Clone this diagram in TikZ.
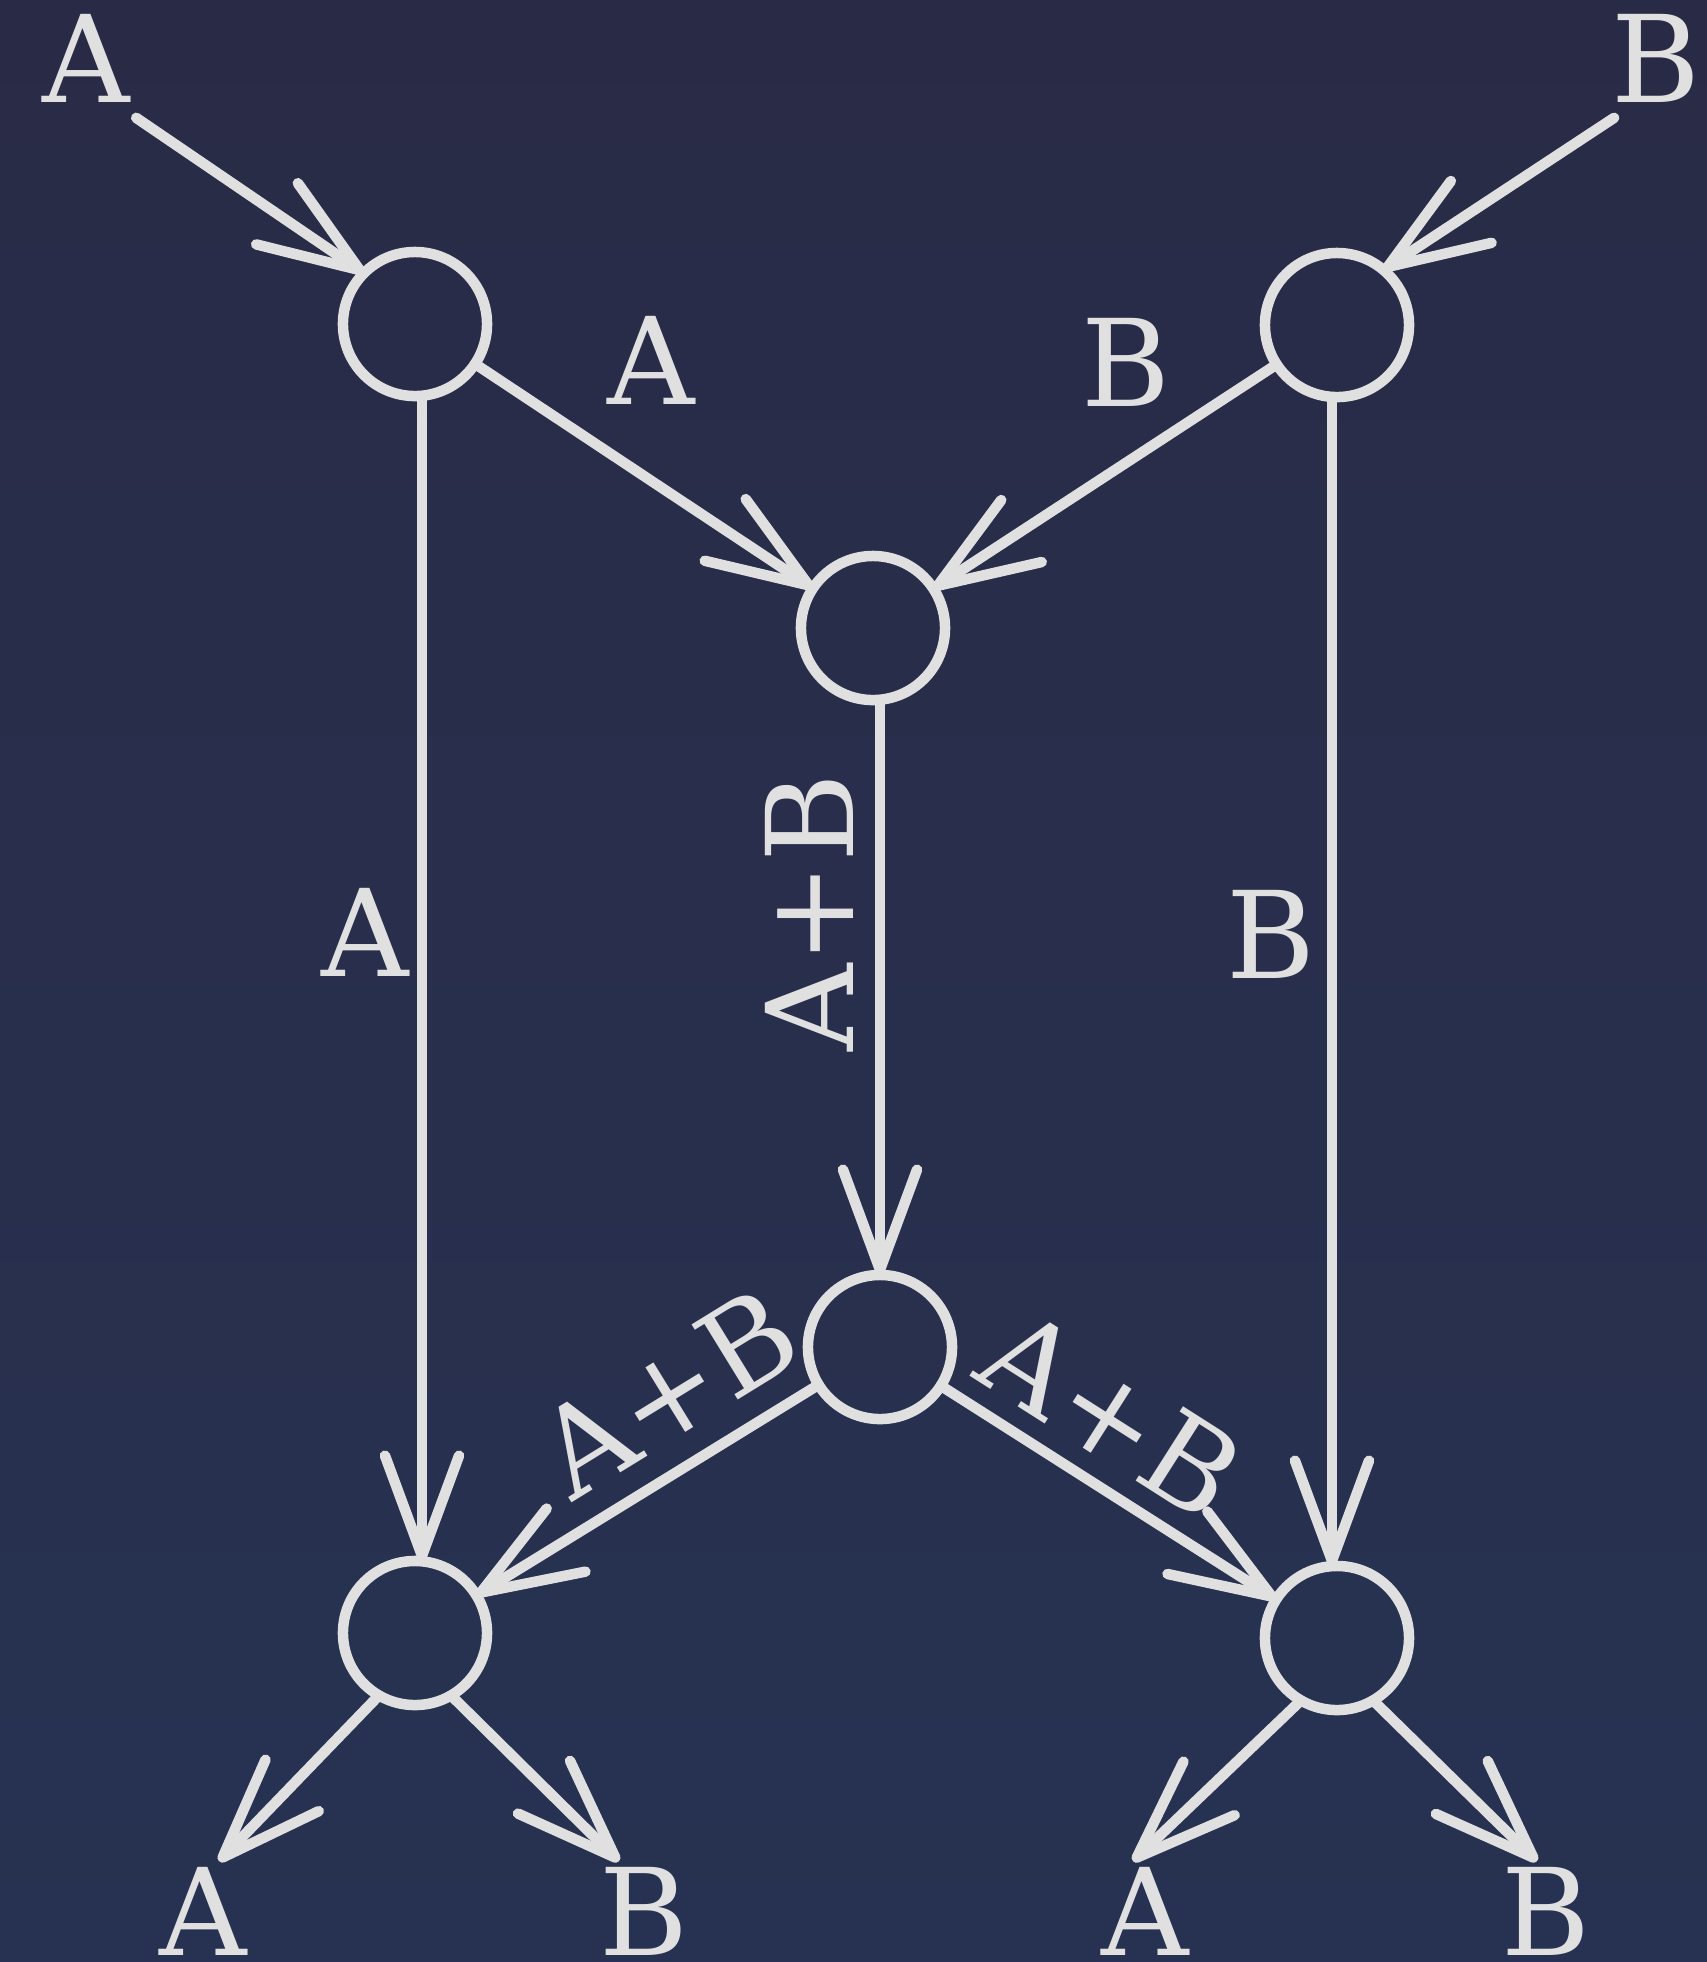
\documentclass[tikz,border=0pt]{standalone}
\usepackage{fontspec}
\setmainfont{DejaVu Serif}
\usetikzlibrary{arrows.meta}
\definecolor{ChalkGray}{RGB}{224,224,224}
\definecolor{SlateTop}{RGB}{41,43,70}
\definecolor{SlateBottom}{RGB}{39,50,82}

\begin{document}
\begin{tikzpicture}[
    x=0.01cm, y=-0.01cm,
    every node/.style={
        text=ChalkGray,
        inner sep=0pt,
        font=\fontsize{34.4}{40}\selectfont
    },
    junction/.style={draw=ChalkGray, circle, line width=1.05mm, minimum size=1.44cm, outer sep=0pt},
    inport/.style={inner sep=0.15cm},
    outport/.style={inner sep=0.05cm},
    flow/.style={draw=ChalkGray, line width=1.05mm, line cap=round,
        -{Straight Barb[length=1cm, width=0.74cm, round]}}
]

% background
\shade[top color=SlateTop, bottom color=SlateBottom] (0,0) rectangle (1707,1962);
\useasboundingbox (0,0) rectangle (1707,1962);

% Junctions
\node[junction] (splitA) at (415,324) {};
\node[junction] (splitB) at (1337,325) {};
\node[junction] (mix) at (873,628) {};
\node[junction] (fan) at (880,1347) {};
\node[junction] (sinkL) at (415,1633) {};
\node[junction] (sinkR) at (1337,1638) {};

% Inputs and outputs
\node[inport] (srcA) at (86,58) {A};
\node[inport] (srcB) at (1656,58) {B};
\node[outport] (dstLA) at (203,1911) {A};
\node[outport] (dstLB) at (644,1911) {B};
\node[outport] (dstRA) at (1145,1911) {A};
\node[outport] (dstRB) at (1546,1911) {B};

% Flows with labels
\draw[flow] (srcA.310) -- (splitA.135);
\draw[flow] (srcB.235) -- (splitB.50);
\draw[flow] (splitA) -- node[pos=0.52, above=0.71cm] (lblA) {A} (mix);
\draw[flow] (splitB) -- node[pos=0.44, above=0.51cm] (lblB) {B} (mix);
\draw[flow] ([xshift=0.07cm]splitA.south) -- node[pos=0.46, left=0.075cm] (lblAdown) {A} ([xshift=0.07cm]sinkL.north);
\draw[flow] ([xshift=-0.05cm]splitB.south) -- node[pos=0.46, left=0.11cm] (lblBdown) {B} ([xshift=-0.05cm]sinkR.north);
\draw[flow] (mix.south -| fan.north) -- node[pos=0.37, rotate=90, above=0.21cm] (lblSum) {A+B} (fan);
\draw[flow] (fan) -- node[pos=0.33, sloped, above=0.24cm] (lblSumL) {A+B} (sinkL);
\draw[flow] (fan) -- node[pos=0.40, sloped, above=0.19cm] (lblSumR) {A+B} (sinkR);
\draw[flow] (sinkL.240) -- ([xshift=0.16cm]dstLA.north);
\draw[flow] (sinkL.300) -- ([xshift=-0.25cm]dstLB.north);
\draw[flow] (sinkR.240) -- ([xshift=-0.12cm]dstRA.north);
\draw[flow] (sinkR.300) -- ([xshift=-0.09cm]dstRB.north);
\end{tikzpicture}
\end{document}
